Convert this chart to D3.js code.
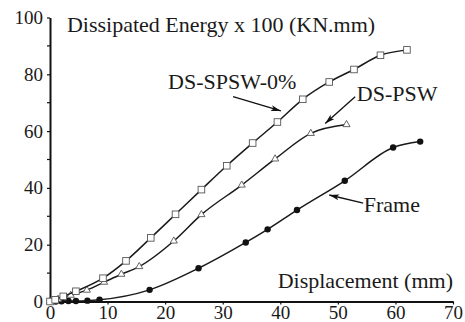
<!DOCTYPE html>
<html>
<head>
<meta charset="utf-8">
<script src="https://cdn.jsdelivr.net/npm/d3@7"></script>
<style>
  body { margin: 0; background: #fff; }
  svg text { font-family: "Liberation Serif", "Times New Roman", serif; fill: #1a1a1a; }
</style>
</head>
<body>
<svg id="chart" width="465" height="322"></svg>
<script>
// displacement (mm) / dissipated energy x 100 (KN.mm)
const spswX = [0, 0.9, 2.3, 4.5, 9.2, 13.2, 17.5, 21.8, 26.3, 30.7, 35.2, 39.5, 43.9, 48.5, 52.8, 57.4, 62.0];
const spswY = [0, 0.6, 1.8, 3.6, 8.2, 14.3, 22.4, 30.7, 39.4, 47.8, 55.8, 63.2, 71.2, 77.3, 81.7, 86.7, 88.6];

const pswX = [0, 1.4, 3.6, 6.4, 9.4, 12.4, 15.5, 21.5, 26.3, 33.3, 39.1, 45.3, 51.5];
const pswY = [0, 0.8, 2.2, 4.0, 6.8, 9.6, 12.3, 21.3, 30.6, 41.0, 50.2, 59.2, 62.3];

const frameX = [0, 1.0, 2.0, 3.2, 4.5, 6.5, 8.6, 17.3, 25.8, 34.0, 37.8, 42.9, 51.2, 59.6, 64.3];
const frameY = [0, 0, 0.1, 0.2, 0.2, 0.3, 0.6, 4.1, 11.7, 20.8, 25.4, 32.2, 42.5, 54.2, 56.3];

const xTicks = [0, 10, 20, 30, 40, 50, 60, 70];
const yTicks = [0, 20, 40, 60, 80, 100];
const yMinorTicks = [10, 30, 50, 70, 90];

// labels with their arrows, in data units
const notes = [
  { text: "DS-SPSW-0%", x: 20.5, y: 74.8, from: [31.8, 72.1], to: [40.1, 67.1] },
  { text: "DS-PSW", x: 53.3, y: 70.6, from: [53.0, 72.1], to: [47.8, 62.7] },
  { text: "Frame", x: 54.5, y: 31.4, from: [54.4, 34.6], to: [48.5, 37.5] }
];

const svg = d3.select("#chart");

const x = d3.scaleLinear().domain([0, 70]).range([50, 453]);
const y = d3.scaleLinear().domain([0, 100]).range([301.5, 17.5]);

svg.append("defs").append("marker")
  .attr("id", "arrow")
  .attr("viewBox", "0 0 10 6")
  .attr("refX", 10).attr("refY", 3)
  .attr("markerWidth", 10).attr("markerHeight", 6)
  .attr("markerUnits", "userSpaceOnUse")
  .attr("orient", "auto")
  .append("path")
  .attr("d", "M0,0 L10,3 L0,6 L2.5,3 Z")
  .attr("fill", "#111");

// axes
const xAxis = svg.append("g")
  .attr("transform", "translate(0," + y(0) + ")")
  .call(d3.axisBottom(x).tickValues(xTicks).tickSize(3).tickSizeOuter(0).tickPadding(3));
const yAxis = svg.append("g")
  .attr("transform", "translate(" + x(0) + ",0)")
  .call(d3.axisLeft(y).tickValues(yTicks).tickSize(3).tickSizeOuter(0).tickPadding(3));

svg.append("g")
  .selectAll("line")
  .data(yMinorTicks)
  .enter()
  .append("line")
  .attr("x1", x(0) - 3).attr("x2", x(0))
  .attr("y1", d => y(d)).attr("y2", d => y(d))
  .attr("stroke", "#111").attr("stroke-width", 1.2);

[xAxis, yAxis].forEach(a => {
  a.select(".domain").attr("stroke", "#111").attr("stroke-width", 2);
  a.selectAll(".tick line").attr("stroke", "#111").attr("stroke-width", 1.2);
  a.selectAll("text")
    .style("font-family", "'Liberation Serif', serif")
    .style("font-size", "19px")
    .attr("fill", "#1a1a1a");
});
xAxis.selectAll("text").attr("dy", "0.62em");
yAxis.selectAll("text").attr("dx", "-1");

// curves
const line = d3.line()
  .x(d => x(d[0]))
  .y(d => y(d[1]))
  .curve(d3.curveMonotoneX);

const series = [
  { xs: frameX, ys: frameY, shape: "dot" },
  { xs: pswX, ys: pswY, shape: "tri" },
  { xs: spswX, ys: spswY, shape: "sq" }
];

series.forEach(s => {
  const pts = s.xs.map((v, i) => [v, s.ys[i]]);
  svg.append("path")
    .datum(pts)
    .attr("d", line)
    .attr("fill", "none")
    .attr("stroke", "#1a1a1a")
    .attr("stroke-width", 1.5);

  const g = svg.append("g");
  if (s.shape === "dot") {
    g.selectAll("circle").data(pts).enter().append("circle")
      .attr("cx", d => x(d[0])).attr("cy", d => y(d[1]))
      .attr("r", 3.2)
      .attr("fill", "#111");
  } else if (s.shape === "sq") {
    g.selectAll("rect").data(pts).enter().append("rect")
      .attr("x", d => x(d[0]) - 3.3).attr("y", d => y(d[1]) - 3.3)
      .attr("width", 6.6).attr("height", 6.6)
      .attr("fill", "#fff")
      .attr("stroke", "#555").attr("stroke-width", 0.9);
  } else {
    g.selectAll("path").data(pts).enter().append("path")
      .attr("d", d3.symbol().type(d3.symbolTriangle).size(22))
      .attr("transform", d => "translate(" + x(d[0]) + "," + y(d[1]) + ")")
      .attr("fill", "#fff")
      .attr("stroke", "#555").attr("stroke-width", 0.9);
  }
});

// annotations
svg.append("g").selectAll("line")
  .data(notes)
  .enter()
  .append("line")
  .attr("x1", d => x(d.from[0])).attr("y1", d => y(d.from[1]))
  .attr("x2", d => x(d.to[0])).attr("y2", d => y(d.to[1]))
  .attr("stroke", "#111").attr("stroke-width", 1.3)
  .attr("marker-end", "url(#arrow)");

svg.append("g").selectAll("text")
  .data(notes)
  .enter()
  .append("text")
  .attr("x", d => x(d.x)).attr("y", d => y(d.y))
  .style("font-size", "22px")
  .text(d => d.text);

svg.append("text")
  .attr("x", x(2.95)).attr("y", y(94.9))
  .style("font-size", "22px")
  .text("Dissipated Energy x 100 (KN.mm)");

svg.append("text")
  .attr("x", x(70)).attr("y", y(4.6))
  .attr("text-anchor", "end")
  .style("font-size", "22px")
  .text("Displacement (mm)");
</script>
</body>
</html>
